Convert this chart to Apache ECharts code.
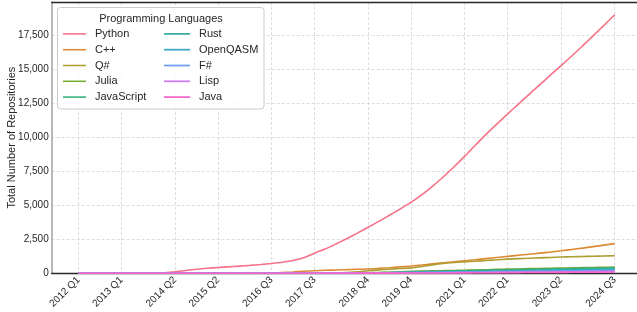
<!DOCTYPE html>
<html>
<head>
<meta charset="utf-8">
<script src="https://cdn.jsdelivr.net/npm/echarts@6/dist/echarts.min.js"></script>
<style>html,body{margin:0;padding:0;background:#fff;}#c{width:637px;height:312px;}</style>
</head>
<body>
<div id="c"></div>
<script>
const quarters = [
 '2012 Q1','2012 Q2','2012 Q3','2012 Q4','2013 Q1','2013 Q2','2013 Q3','2013 Q4',
 '2014 Q1','2014 Q2','2014 Q3','2014 Q4','2015 Q1','2015 Q2','2015 Q3','2015 Q4',
 '2016 Q1','2016 Q2','2016 Q3','2016 Q4','2017 Q1','2017 Q2','2017 Q3','2017 Q4',
 '2018 Q1','2018 Q2','2018 Q3','2018 Q4','2019 Q1','2019 Q2','2019 Q3','2019 Q4',
 '2020 Q1','2020 Q2','2020 Q3','2020 Q4','2021 Q1','2021 Q2','2021 Q3','2021 Q4',
 '2022 Q1','2022 Q2','2022 Q3','2022 Q4','2023 Q1','2023 Q2','2023 Q3','2023 Q4',
 '2024 Q1','2024 Q2','2024 Q3'
];
const tickIndices = [0,4,9,13,18,22,27,31,36,40,45,50];
const yTicks = [0,2500,5000,7500,10000,12500,15000,17500];

const python = [0,0,0,0,2,5,10,20,45,110,210,300,370,425,475,525,580,645,720,810,940,1140,1480,1780,2150,2540,2950,3375,3810,4260,4720,5200,5750,6380,7070,7800,8580,9400,10200,10950,11680,12400,13120,13830,14540,15240,15950,16690,17440,18200,18965];
const cpp = [0,0,0,0,2,3,5,6,8,10,12,14,16,18,20,24,28,34,40,60,100,150,190,220,245,270,295,315,360,410,470,535,610,690,770,850,925,1000,1080,1160,1240,1320,1400,1480,1560,1650,1750,1850,1960,2070,2180];
const qsharp = [0,0,0,0,0,0,0,0,0,0,0,0,0,0,0,0,0,0,0,0,0,0,0,0,20,60,110,190,250,300,350,400,500,620,720,790,840,890,940,990,1040,1075,1105,1135,1165,1195,1215,1235,1255,1272,1290];
const julia = [0,0,0,0,0,0,0,0,0,1,1,2,2,3,3,4,5,6,7,8,10,12,15,18,22,28,35,45,60,80,110,140,160,180,195,210,225,245,265,285,305,320,340,355,370,385,400,415,430,440,450];
const javascript = [0,0,0,0,0,0,0,0,0,0,1,1,2,2,3,3,4,5,6,7,8,10,12,15,18,22,28,35,45,60,85,110,130,145,160,175,190,210,225,240,255,270,285,300,315,330,345,360,375,390,400];
const rust = [0,0,0,0,0,0,0,0,0,0,0,0,0,1,1,2,2,3,3,4,5,6,8,10,12,15,18,22,28,36,48,60,75,88,100,112,125,140,155,170,185,200,215,230,245,260,275,290,300,312,322];
const openqasm = [0,0,0,0,0,0,0,0,0,0,0,0,0,0,0,0,0,0,0,0,0,0,2,5,8,12,16,20,26,32,40,50,60,72,84,95,105,118,132,146,160,172,184,196,208,220,230,240,250,258,265];
const fsharp = [0,0,0,0,0,1,1,2,2,3,3,4,4,5,6,7,8,9,10,12,14,16,18,20,23,26,30,34,38,44,50,56,62,68,74,80,88,96,104,112,120,128,136,144,152,160,168,176,184,192,200];
const lisp = [0,0,0,0,0,0,1,1,1,2,2,2,3,3,3,4,4,5,5,6,7,8,9,10,12,14,16,18,21,24,27,31,35,39,43,47,52,58,64,70,76,82,88,94,100,106,112,118,124,132,140];
const java = [0,0,0,0,0,0,0,0,0,0,0,1,1,1,1,2,2,2,3,3,4,4,5,6,7,8,9,10,12,14,16,18,20,22,25,28,32,36,40,44,48,52,56,60,64,68,72,76,80,85,90];

const seriesNames = ['Python','C++','Q#','Julia','JavaScript','Rust','OpenQASM','F#','Lisp','Java'];
const seriesValues = [python,cpp,qsharp,julia,javascript,rust,openqasm,fsharp,lisp,java];
const colors = ['#f77189','#dc8932','#ae9d31','#77ab31','#33b07a','#36ada4','#38a9c5','#6e9bf4','#cc7af4','#f565cc'];

const FONT = '"Liberation Sans", Arial, sans-serif';
const TXT = '#262626';

const chart = echarts.init(document.getElementById('c'), null, {renderer:'canvas'});

const series = seriesNames.map((n, k) => ({
  name: n,
  type: 'line',
  data: seriesValues[k].map((v, i) => [i, v]),
  showSymbol: false,
  symbol: 'none',
  smooth: 0.25,
  lineStyle: {width: 1.6, color: colors[k]},
  itemStyle: {color: colors[k]},
  z: 2 + k,
  animation: false
}));

const legendIcon = 'path://M0,0 L24,0 L24,1.6 L0,1.6 Z';

chart.setOption({
  animation: false,
  textStyle: {fontFamily: FONT},
  grid: {left: 51.7, top: 2, width: 589.8, bottom: 38.7, outerBoundsMode: 'none'},
  xAxis: [{
    type: 'value',
    min: -2.5, max: 52.5,
    axisLine: {show: true, onZero: false, lineStyle: {color: '#262626', width: 1.3}},
    axisTick: {show: false, customValues: tickIndices},
    axisLabel: {
      customValues: tickIndices,
      rotate: 45, margin: 5, fontSize: 10, color: TXT, fontFamily: FONT,
      formatter: v => quarters[Math.round(v)]
    },
    splitLine: {show: true, lineStyle: {color: '#d4d4d4', width: 0.8, type: [3, 2]}}
  }, {
    type: 'value', position: 'top',
    min: -2.5, max: 52.5,
    axisLine: {show: true, onZero: false, lineStyle: {color: '#262626', width: 1.3}},
    axisTick: {show: false}, axisLabel: {show: false}, splitLine: {show: false}
  }],
  yAxis: {
    type: 'value',
    min: 0, max: 19913, interval: 2500,
    name: 'Total Number of Repositories',
    nameLocation: 'middle', nameGap: 34, nameMoveOverlap: false,
    nameTextStyle: {fontSize: 11, color: TXT, fontFamily: FONT},
    axisLine: {show: true, onZero: false, lineStyle: {color: '#a8a8a8', width: 1.6}},
    axisTick: {show: false},
    axisLabel: {
      margin: 3, fontSize: 10, color: TXT, fontFamily: FONT,
      formatter: v => yTicks.includes(v) ? v.toLocaleString('en-US') : ''
    },
    splitLine: {show: true, lineStyle: {color: '#d4d4d4', width: 0.8, type: [3, 2]}}
  },
  legend: [{
    data: seriesNames.slice(0, 5),
    orient: 'vertical', left: 63, top: 26, padding: 0, itemGap: 0,
    itemWidth: 23, itemHeight: 14, icon: legendIcon,
    textStyle: {fontSize: 11, color: TXT, fontFamily: FONT, lineHeight: 15.8, padding: [0,0,0,4]},
    selectedMode: false, z: 20
  }, {
    data: seriesNames.slice(5),
    orient: 'vertical', left: 164, top: 26, padding: 0, itemGap: 0,
    itemWidth: 26, itemHeight: 14, icon: legendIcon,
    textStyle: {fontSize: 11, color: TXT, fontFamily: FONT, lineHeight: 15.8, padding: [0,0,0,4]},
    selectedMode: false, z: 20
  }],
  graphic: [{
    type: 'rect', z: 15,
    shape: {x: 57.5, y: 7.5, width: 206.5, height: 101.5, r: 3},
    style: {fill: 'rgba(255,255,255,0.85)', stroke: '#cccccc', lineWidth: 1}
  }, {
    type: 'text', z: 16,
    x: 161, y: 19,
    style: {text: 'Programming Languages', fontSize: 11, fill: TXT, fontFamily: FONT, align: 'center', verticalAlign: 'middle'}
  }],
  series: series
});
</script>
</body>
</html>
